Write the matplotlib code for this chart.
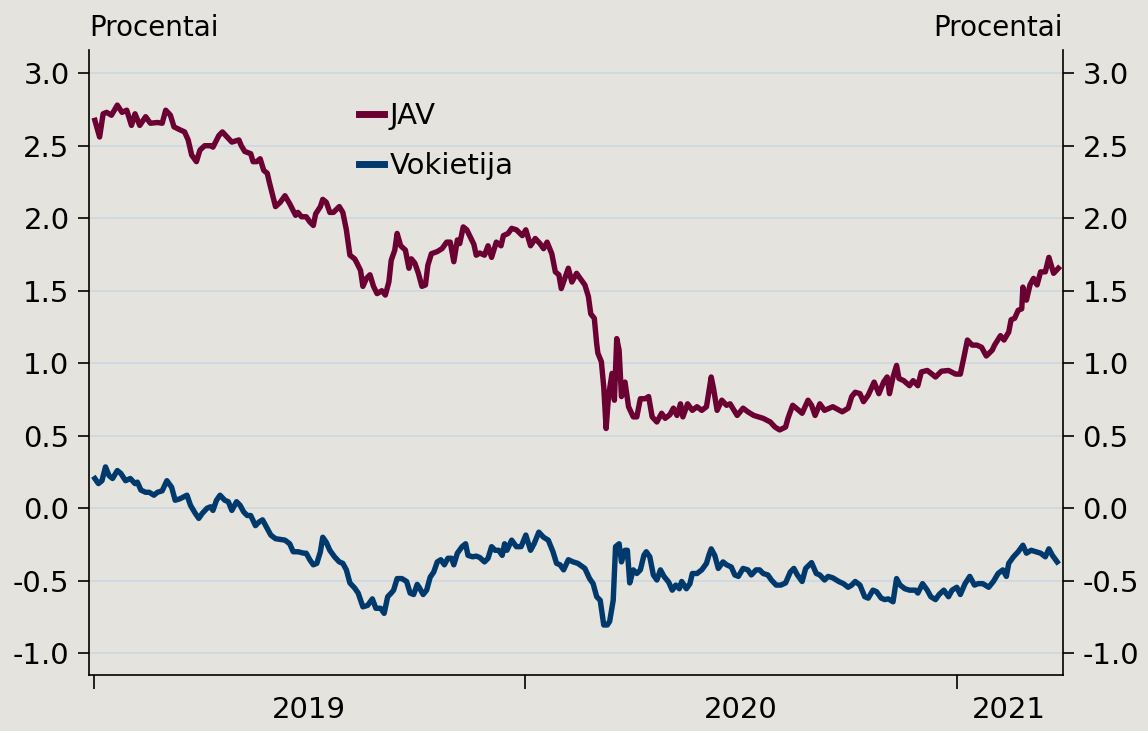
import matplotlib.pyplot as plt
import matplotlib.dates as mdates
import pandas as pd

plt.rcParams['font.family'] = ['DejaVu Sans']
plt.rcParams['axes.unicode_minus'] = False

# 10 metu obligaciju pajamingumas, procentai
us_dates = [
    '2019-01-02', '2019-01-06', '2019-01-09', '2019-01-12', '2019-01-16', '2019-01-21', '2019-01-25', '2019-01-29',
    '2019-02-02', '2019-02-05', '2019-02-09', '2019-02-14', '2019-02-18', '2019-02-24', '2019-02-28', '2019-03-03',
    '2019-03-07', '2019-03-10', '2019-03-15', '2019-03-19', '2019-03-22', '2019-03-25', '2019-03-29', '2019-04-01',
    '2019-04-05', '2019-04-10', '2019-04-12', '2019-04-17', '2019-04-20', '2019-04-24', '2019-04-28', '2019-05-04',
    '2019-05-06', '2019-05-09', '2019-05-14', '2019-05-16', '2019-05-19', '2019-05-22', '2019-05-25', '2019-05-28',
    '2019-05-30', '2019-06-04', '2019-06-08', '2019-06-12', '2019-06-16', '2019-06-21', '2019-06-23', '2019-06-26',
    '2019-06-30', '2019-07-03', '2019-07-06', '2019-07-08', '2019-07-12', '2019-07-14', '2019-07-17', '2019-07-20',
    '2019-07-23', '2019-07-28', '2019-07-31', '2019-08-03', '2019-08-06', '2019-08-10', '2019-08-12', '2019-08-15',
    '2019-08-17', '2019-08-20', '2019-08-23', '2019-08-26', '2019-08-29', '2019-09-02', '2019-09-05', '2019-09-08',
    '2019-09-10', '2019-09-13', '2019-09-15', '2019-09-18', '2019-09-22', '2019-09-25', '2019-09-27', '2019-09-30',
    '2019-10-03', '2019-10-06', '2019-10-09', '2019-10-11', '2019-10-14', '2019-10-19', '2019-10-23', '2019-10-27',
    '2019-10-30', '2019-11-02', '2019-11-05', '2019-11-07', '2019-11-10', '2019-11-13', '2019-11-16', '2019-11-19',
    '2019-11-21', '2019-11-24', '2019-11-28', '2019-12-01', '2019-12-04', '2019-12-08', '2019-12-12', '2019-12-14',
    '2019-12-18', '2019-12-21', '2019-12-25', '2019-12-30', '2020-01-02', '2020-01-06', '2020-01-10', '2020-01-14',
    '2020-01-17', '2020-01-20', '2020-01-24', '2020-01-27', '2020-01-30', '2020-02-01', '2020-02-04', '2020-02-07',
    '2020-02-10', '2020-02-14', '2020-02-17', '2020-02-21', '2020-02-24', '2020-02-26', '2020-02-29', '2020-03-02',
    '2020-03-03', '2020-03-06', '2020-03-08', '2020-03-10', '2020-03-12', '2020-03-15', '2020-03-17', '2020-03-19',
    '2020-03-21', '2020-03-23', '2020-03-26', '2020-03-29', '2020-04-02', '2020-04-05', '2020-04-08', '2020-04-12',
    '2020-04-15', '2020-04-18', '2020-04-22', '2020-04-26', '2020-04-29', '2020-05-03', '2020-05-06', '2020-05-09',
    '2020-05-12', '2020-05-14', '2020-05-18', '2020-05-22', '2020-05-26', '2020-05-30', '2020-06-03', '2020-06-07',
    '2020-06-09', '2020-06-12', '2020-06-16', '2020-06-20', '2020-06-23', '2020-06-29', '2020-07-04', '2020-07-08',
    '2020-07-13', '2020-07-17', '2020-07-21', '2020-07-27', '2020-07-31', '2020-08-04', '2020-08-09', '2020-08-11',
    '2020-08-15', '2020-08-18', '2020-08-23', '2020-08-28', '2020-08-31', '2020-09-03', '2020-09-07', '2020-09-11',
    '2020-09-18', '2020-09-26', '2020-10-01', '2020-10-04', '2020-10-07', '2020-10-11', '2020-10-14', '2020-10-18',
    '2020-10-23', '2020-10-27', '2020-10-31', '2020-11-03', '2020-11-05', '2020-11-08', '2020-11-11', '2020-11-13',
    '2020-11-17', '2020-11-22', '2020-11-25', '2020-11-29', '2020-12-02', '2020-12-07', '2020-12-11', '2020-12-14',
    '2020-12-19', '2020-12-25', '2020-12-31', '2021-01-04', '2021-01-07', '2021-01-10', '2021-01-14', '2021-01-18',
    '2021-01-22', '2021-01-26', '2021-01-31', '2021-02-02', '2021-02-07', '2021-02-10', '2021-02-14', '2021-02-16',
    '2021-02-19', '2021-02-22', '2021-02-25', '2021-02-26', '2021-03-01', '2021-03-04', '2021-03-07', '2021-03-10',
    '2021-03-13', '2021-03-17', '2021-03-20', '2021-03-24', '2021-03-28',
]
us_values = [
    2.675, 2.56, 2.72, 2.73, 2.71, 2.78, 2.73, 2.745,
    2.64, 2.72, 2.64, 2.70, 2.655, 2.66, 2.655, 2.745,
    2.71, 2.63, 2.61, 2.595, 2.54, 2.435, 2.39, 2.47,
    2.50, 2.50, 2.49, 2.57, 2.595, 2.56, 2.525, 2.54,
    2.50, 2.46, 2.445, 2.39, 2.39, 2.41, 2.33, 2.31,
    2.24, 2.08, 2.11, 2.155, 2.10, 2.02, 2.04, 2.01,
    2.01, 1.975, 1.95, 2.03, 2.08, 2.13, 2.11, 2.04,
    2.04, 2.08, 2.04, 1.92, 1.745, 1.72, 1.69, 1.64,
    1.53, 1.585, 1.61, 1.53, 1.48, 1.50, 1.47, 1.56,
    1.71, 1.78, 1.895, 1.81, 1.78, 1.655, 1.72, 1.69,
    1.62, 1.53, 1.54, 1.675, 1.755, 1.77, 1.79, 1.835,
    1.835, 1.70, 1.85, 1.825, 1.94, 1.92, 1.87, 1.82,
    1.745, 1.76, 1.745, 1.81, 1.73, 1.835, 1.81, 1.88,
    1.895, 1.93, 1.92, 1.88, 1.92, 1.81, 1.86, 1.825,
    1.79, 1.835, 1.755, 1.63, 1.61, 1.515, 1.585, 1.655,
    1.56, 1.62, 1.585, 1.54, 1.46, 1.34, 1.31, 1.135,
    1.07, 1.01, 0.835, 0.55, 0.77, 0.93, 0.745, 1.17,
    1.09, 0.77, 0.87, 0.70, 0.63, 0.63, 0.755, 0.755,
    0.77, 0.63, 0.595, 0.655, 0.62, 0.645, 0.69, 0.64,
    0.72, 0.63, 0.72, 0.675, 0.70, 0.675, 0.70, 0.905,
    0.825, 0.675, 0.745, 0.71, 0.72, 0.64, 0.69, 0.665,
    0.64, 0.63, 0.62, 0.595, 0.56, 0.54, 0.56, 0.62,
    0.71, 0.69, 0.655, 0.745, 0.71, 0.64, 0.72, 0.675,
    0.70, 0.665, 0.69, 0.77, 0.80, 0.79, 0.735, 0.78,
    0.87, 0.79, 0.87, 0.905, 0.79, 0.905, 0.985, 0.895,
    0.88, 0.845, 0.88, 0.845, 0.94, 0.95, 0.925, 0.905,
    0.945, 0.95, 0.925, 0.925, 1.04, 1.16, 1.125, 1.125,
    1.11, 1.05, 1.09, 1.125, 1.19, 1.16, 1.215, 1.30,
    1.31, 1.365, 1.375, 1.525, 1.435, 1.54, 1.585, 1.54,
    1.63, 1.63, 1.73, 1.62, 1.655,
]

de_dates = [
    '2019-01-02', '2019-01-05', '2019-01-08', '2019-01-11', '2019-01-14', '2019-01-17', '2019-01-21', '2019-01-24',
    '2019-01-28', '2019-02-01', '2019-02-05', '2019-02-07', '2019-02-10', '2019-02-14', '2019-02-17', '2019-02-21',
    '2019-02-24', '2019-02-28', '2019-03-04', '2019-03-08', '2019-03-11', '2019-03-15', '2019-03-21', '2019-03-24',
    '2019-03-28', '2019-03-31', '2019-04-03', '2019-04-07', '2019-04-10', '2019-04-12', '2019-04-15', '2019-04-18',
    '2019-04-22', '2019-04-25', '2019-04-28', '2019-05-02', '2019-05-05', '2019-05-08', '2019-05-11', '2019-05-14',
    '2019-05-18', '2019-05-21', '2019-05-24', '2019-05-28', '2019-05-31', '2019-06-04', '2019-06-08', '2019-06-12',
    '2019-06-16', '2019-06-19', '2019-06-23', '2019-06-28', '2019-06-30', '2019-07-03', '2019-07-06', '2019-07-09',
    '2019-07-12', '2019-07-14', '2019-07-17', '2019-07-20', '2019-07-24', '2019-07-28', '2019-07-31', '2019-08-03',
    '2019-08-06', '2019-08-10', '2019-08-13', '2019-08-17', '2019-08-21', '2019-08-25', '2019-08-28', '2019-09-01',
    '2019-09-04', '2019-09-07', '2019-09-10', '2019-09-12', '2019-09-15', '2019-09-19', '2019-09-23', '2019-09-26',
    '2019-09-29', '2019-10-02', '2019-10-04', '2019-10-07', '2019-10-10', '2019-10-13', '2019-10-16', '2019-10-19',
    '2019-10-22', '2019-10-25', '2019-10-28', '2019-10-31', '2019-11-02', '2019-11-05', '2019-11-09', '2019-11-12',
    '2019-11-14', '2019-11-18', '2019-11-21', '2019-11-24', '2019-11-28', '2019-12-01', '2019-12-04', '2019-12-07',
    '2019-12-10', '2019-12-13', '2019-12-15', '2019-12-17', '2019-12-21', '2019-12-25', '2019-12-29', '2020-01-02',
    '2020-01-06', '2020-01-09', '2020-01-13', '2020-01-17', '2020-01-21', '2020-01-25', '2020-01-28', '2020-01-31',
    '2020-02-03', '2020-02-07', '2020-02-11', '2020-02-15', '2020-02-21', '2020-02-25', '2020-02-28', '2020-03-02',
    '2020-03-05', '2020-03-08', '2020-03-11', '2020-03-13', '2020-03-16', '2020-03-18', '2020-03-21', '2020-03-23',
    '2020-03-26', '2020-03-28', '2020-03-30', '2020-04-02', '2020-04-05', '2020-04-08', '2020-04-11', '2020-04-13',
    '2020-04-16', '2020-04-19', '2020-04-22', '2020-04-25', '2020-04-28', '2020-05-02', '2020-05-05', '2020-05-08',
    '2020-05-11', '2020-05-13', '2020-05-17', '2020-05-20', '2020-05-22', '2020-05-26', '2020-05-30', '2020-06-03',
    '2020-06-05', '2020-06-07', '2020-06-10', '2020-06-13', '2020-06-17', '2020-06-20', '2020-06-24', '2020-06-27',
    '2020-06-30', '2020-07-04', '2020-07-08', '2020-07-11', '2020-07-15', '2020-07-18', '2020-07-21', '2020-07-25',
    '2020-07-28', '2020-08-01', '2020-08-05', '2020-08-09', '2020-08-13', '2020-08-16', '2020-08-19', '2020-08-23',
    '2020-08-26', '2020-08-31', '2020-09-04', '2020-09-07', '2020-09-11', '2020-09-14', '2020-09-18', '2020-09-23',
    '2020-09-27', '2020-10-01', '2020-10-04', '2020-10-07', '2020-10-11', '2020-10-15', '2020-10-18', '2020-10-22',
    '2020-10-25', '2020-10-29', '2020-11-01', '2020-11-04', '2020-11-08', '2020-11-11', '2020-11-14', '2020-11-18',
    '2020-11-22', '2020-11-27', '2020-11-29', '2020-12-03', '2020-12-07', '2020-12-10', '2020-12-14', '2020-12-17',
    '2020-12-21', '2020-12-25', '2020-12-28', '2021-01-01', '2021-01-04', '2021-01-08', '2021-01-12', '2021-01-16',
    '2021-01-19', '2021-01-23', '2021-01-28', '2021-02-01', '2021-02-05', '2021-02-09', '2021-02-12', '2021-02-14',
    '2021-02-18', '2021-02-22', '2021-02-26', '2021-03-01', '2021-03-05', '2021-03-09', '2021-03-13', '2021-03-17',
    '2021-03-20', '2021-03-23', '2021-03-27',
]
de_values = [
    0.205, 0.17, 0.19, 0.285, 0.225, 0.205, 0.26, 0.24,
    0.19, 0.205, 0.17, 0.18, 0.125, 0.11, 0.11, 0.09,
    0.11, 0.12, 0.19, 0.145, 0.055, 0.065, 0.09, 0.02,
    -0.035, -0.07, -0.035, 0.0, 0.01, -0.015, 0.055, 0.09,
    0.055, 0.045, -0.015, 0.045, 0.02, -0.025, -0.05, -0.05,
    -0.12, -0.095, -0.08, -0.14, -0.185, -0.21, -0.215, -0.22,
    -0.245, -0.30, -0.30, -0.31, -0.31, -0.355, -0.39, -0.38,
    -0.30, -0.20, -0.235, -0.29, -0.335, -0.37, -0.38, -0.425,
    -0.515, -0.55, -0.585, -0.68, -0.67, -0.625, -0.69, -0.69,
    -0.725, -0.61, -0.585, -0.565, -0.485, -0.485, -0.505, -0.585,
    -0.595, -0.525, -0.55, -0.595, -0.565, -0.475, -0.44, -0.37,
    -0.355, -0.39, -0.345, -0.345, -0.39, -0.31, -0.265, -0.245,
    -0.325, -0.335, -0.33, -0.34, -0.37, -0.345, -0.265, -0.29,
    -0.29, -0.325, -0.245, -0.29, -0.22, -0.265, -0.265, -0.185,
    -0.29, -0.245, -0.165, -0.20, -0.22, -0.30, -0.38, -0.39,
    -0.425, -0.355, -0.37, -0.38, -0.415, -0.485, -0.52, -0.61,
    -0.635, -0.805, -0.805, -0.78, -0.635, -0.265, -0.245, -0.37,
    -0.29, -0.29, -0.515, -0.425, -0.45, -0.425, -0.325, -0.30,
    -0.335, -0.46, -0.495, -0.425, -0.47, -0.51, -0.565, -0.53,
    -0.555, -0.505, -0.555, -0.52, -0.45, -0.45, -0.425, -0.38,
    -0.325, -0.28, -0.325, -0.415, -0.37, -0.39, -0.405, -0.46,
    -0.47, -0.415, -0.425, -0.46, -0.425, -0.425, -0.45, -0.46,
    -0.495, -0.53, -0.53, -0.515, -0.44, -0.415, -0.46, -0.505,
    -0.415, -0.375, -0.45, -0.46, -0.495, -0.47, -0.48, -0.505,
    -0.52, -0.545, -0.53, -0.505, -0.53, -0.61, -0.62, -0.565,
    -0.575, -0.62, -0.63, -0.625, -0.645, -0.485, -0.53, -0.555,
    -0.565, -0.565, -0.585, -0.52, -0.565, -0.61, -0.63, -0.595,
    -0.565, -0.61, -0.565, -0.545, -0.595, -0.52, -0.47, -0.53,
    -0.52, -0.52, -0.545, -0.505, -0.45, -0.425, -0.47, -0.38,
    -0.335, -0.30, -0.255, -0.31, -0.29, -0.30, -0.31, -0.335,
    -0.28, -0.325, -0.37,
]

series_names = ['JAV', 'Vokietija']
year_labels = ['2019', '2020', '2021']
year_starts = ['2019-01-01', '2020-01-01', '2021-01-01']
label_dates = ['2019-07-02', '2020-07-02', '2021-02-14']
y_ticks = [-1.0, -0.5, 0.0, 0.5, 1.0, 1.5, 2.0, 2.5, 3.0]

bg = '#e4e3de'
us_color = '#6b0033'
de_color = '#003a6c'

fig = plt.figure(figsize=(11.48, 7.31), dpi=100, facecolor=bg)
ax = fig.add_axes([0.0775, 0.0766, 0.8485, 0.855], facecolor=bg)

ax.plot(pd.to_datetime(us_dates), us_values, color=us_color, lw=3.9, label=series_names[0],
        solid_joinstyle='round', zorder=3)
ax.plot(pd.to_datetime(de_dates), de_values, color=de_color, lw=3.9, label=series_names[1],
        solid_joinstyle='round', zorder=3)

ax.set_ylim(-1.15, 3.16)
ax.set_xlim(pd.Timestamp('2018-12-28'), pd.Timestamp('2021-04-01'))

ax.set_yticks(y_ticks)
ax.set_yticklabels(['%.1f' % t for t in y_ticks])
ax.grid(axis='y', color='#cdd8e0', lw=1.2, zorder=1)
ax.set_axisbelow(True)

ax.set_xticks(pd.to_datetime(year_starts))
ax.set_xticklabels([])
ax.set_xticks(pd.to_datetime(label_dates), minor=True)
ax.set_xticklabels(year_labels, minor=True)

ax.tick_params(axis='y', which='both', left=True, right=True, labelleft=True, labelright=True,
               length=8, width=1.2, labelsize=21, pad=6, direction='out')
ax.tick_params(axis='x', which='major', length=10, width=1.2, direction='out')
ax.tick_params(axis='x', which='minor', length=0, labelsize=21, pad=15)

for s in ['left', 'right', 'bottom']:
    ax.spines[s].set_linewidth(1.2)
ax.spines['top'].set_visible(False)

ax.text(0.0, 1.035, 'Procentai', transform=ax.transAxes, ha='left', va='center', fontsize=20)
ax.text(1.0, 1.035, 'Procentai', transform=ax.transAxes, ha='right', va='center', fontsize=20)

leg = ax.legend(loc='upper left', bbox_to_anchor=(0.265, 0.935), frameon=False, fontsize=21,
                handlelength=0.85, handletextpad=0.2, labelspacing=0.75, borderaxespad=0)
for h in leg.get_lines():
    h.set_linewidth(5)

fig.savefig('out.png', dpi=100, facecolor=bg)
